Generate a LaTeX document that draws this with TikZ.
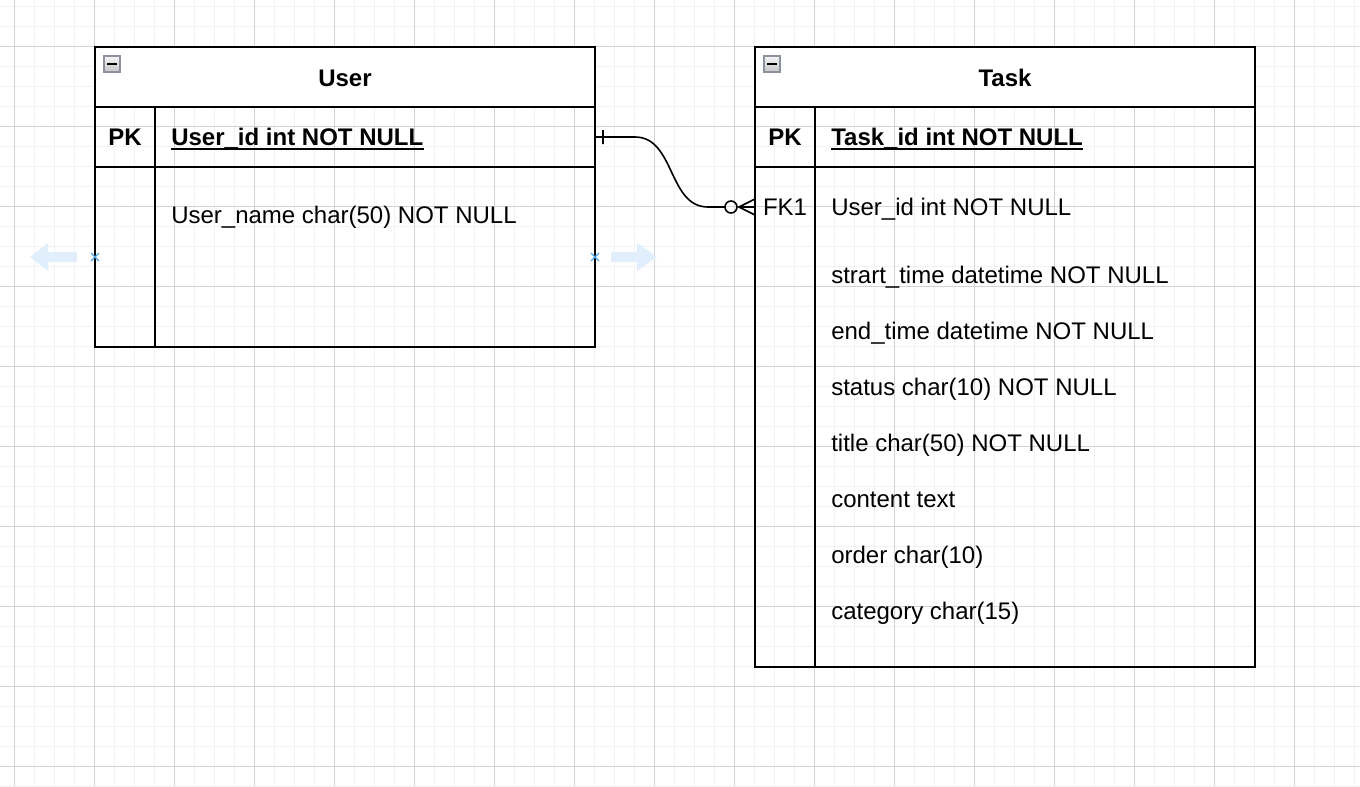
\documentclass[tikz,border=0pt]{standalone}
\usepackage{fontspec}
\setmainfont{Liberation Sans}
\usetikzlibrary{positioning}
\definecolor{gridminor}{HTML}{F2F2F2}
\definecolor{gridmajor}{HTML}{D3D3D3}
\definecolor{hintblue}{HTML}{E0EFFB}
\definecolor{hintx}{HTML}{4FA6E8}
\definecolor{iconborder}{HTML}{8E929E}
\tikzset{ertable/.style={draw, line width=1.5pt, minimum width=375pt, inner sep=0pt, outer sep=0pt},
	field/.style={anchor=base west, inner sep=0pt, font=\fontsize{18pt}{21pt}\selectfont},
	keyname/.style={field, font=\fontsize{18pt}{21pt}\selectfont\bfseries},
	keycol/.style={anchor=base, inner sep=0pt, font=\fontsize{18pt}{21pt}\selectfont},
	title/.style={anchor=base, inner sep=0pt, font=\fontsize{18pt}{21pt}\selectfont\bfseries},
	relation/.style={draw, line width=1.2pt},
	fold/.style={top color=gray!8, bottom color=gray!45, draw=iconborder, line width=0.8pt}}

\begin{document}
\begin{tikzpicture}[x=0.75pt,y=-0.75pt]
	\useasboundingbox (0,0) rectangle (1360,786);
	\fill[white] (0,0) rectangle (1360,786);

	% grid
	\foreach \x in {14,34,...,1354} \draw[gridminor, line width=0.75pt] (\x,0) -- (\x,786);
	\foreach \y in {6,26,...,786} \draw[gridminor, line width=0.75pt] (0,\y) -- (1360,\y);
	\foreach \x in {14,94,...,1294} \draw[gridmajor, line width=0.75pt] (\x,0) -- (\x,786);
	\foreach \y in {46,126,...,766} \draw[gridmajor, line width=0.75pt] (0,\y) -- (1360,\y);

	% User table
	\node[ertable, minimum height=45pt, fill=white] (userhead) at (345,77) {};
	\node[ertable, minimum height=45pt, below=0pt of userhead] (userpk) {};
	\node[ertable, minimum height=135pt, below=0pt of userpk] (userbody) {};
	\draw[line width=1.5pt] (155,107) -- (155,347);
	\shade[fold] (104,56) rectangle (120,72);
	\fill (107,63) rectangle (117,65);
	\node[title] (usertitle) at (345,86) {User};
	\node[keycol, font=\fontsize{18pt}{21pt}\selectfont\bfseries] (userpkkey) at (125,145) {PK};
	\node[keyname] (userid) at (171,145) {User\_id int NOT NULL};
	\draw[line width=1.5pt] ([yshift=-3pt]userid.base west) -- ([yshift=-3pt]userid.base east);
	\node[field] (username) at (171,223) {User\_name char(50) NOT NULL};

	% Task table
	\node[ertable, minimum height=45pt, fill=white] (taskhead) at (1005,77) {};
	\node[ertable, minimum height=45pt, below=0pt of taskhead] (taskpk) {};
	\node[ertable, minimum height=375pt, below=0pt of taskpk] (taskbody) {};
	\draw[line width=1.5pt] (815,107) -- (815,667);
	\shade[fold] (764,56) rectangle (780,72);
	\fill (767,63) rectangle (777,65);
	\node[title] (tasktitle) at (1005,86) {Task};
	\node[keycol, font=\fontsize{18pt}{21pt}\selectfont\bfseries] (taskpkkey) at (785,145) {PK};
	\node[keyname] (taskid) at (831,145) {Task\_id int NOT NULL};
	\draw[line width=1.5pt] ([yshift=-3pt]taskid.base west) -- ([yshift=-3pt]taskid.base east);
	\node[keycol] (taskfkkey) at (785,215) {FK1};
	\node[field] (taskuser) at (831,215) {User\_id int NOT NULL};
	\node[field] (taskstart) at (831,283) {strart\_time datetime NOT NULL};
	\node[field] (taskend) at (831,339) {end\_time datetime NOT NULL};
	\node[field] (taskstatus) at (831,395) {status char(10) NOT NULL};
	\node[field] (tasktitlef) at (831,451) {title char(50) NOT NULL};
	\node[field] (taskcontent) at (831,507) {content text};
	\node[field] (taskorder) at (831,563) {order char(10)};
	\node[field] (taskcategory) at (831,619) {category char(15)};

	% relation
	\coordinate (fkend) at ([yshift=-30pt]taskbody.north west);
	\path[relation]
		(userpk.east) -- (635,137) .. controls (675,137) and (668,207) .. (708,207) -- (725,207)
		(731,207) circle[radius=6]
		(fkend) -- (739,207)
		(755,199) -- (739,207) -- (755,215)
		(603,130) -- (603,144);

	% selection hints
	\fill[hintblue] (77,252) -- (48,252) -- (48,243) -- (30,257) -- (48,271) -- (48,262) -- (77,262) -- cycle;
	\fill[hintblue] (611,252) -- (637,252) -- (637,243) -- (657,257) -- (637,271) -- (637,262) -- (611,262) -- cycle;
	\draw[hintx, line width=1pt] (91,253) -- (99,261) (91,261) -- (99,253);
	\draw[hintx, line width=1pt] (591,253) -- (599,261) (591,261) -- (599,253);
\end{tikzpicture}
\end{document}
